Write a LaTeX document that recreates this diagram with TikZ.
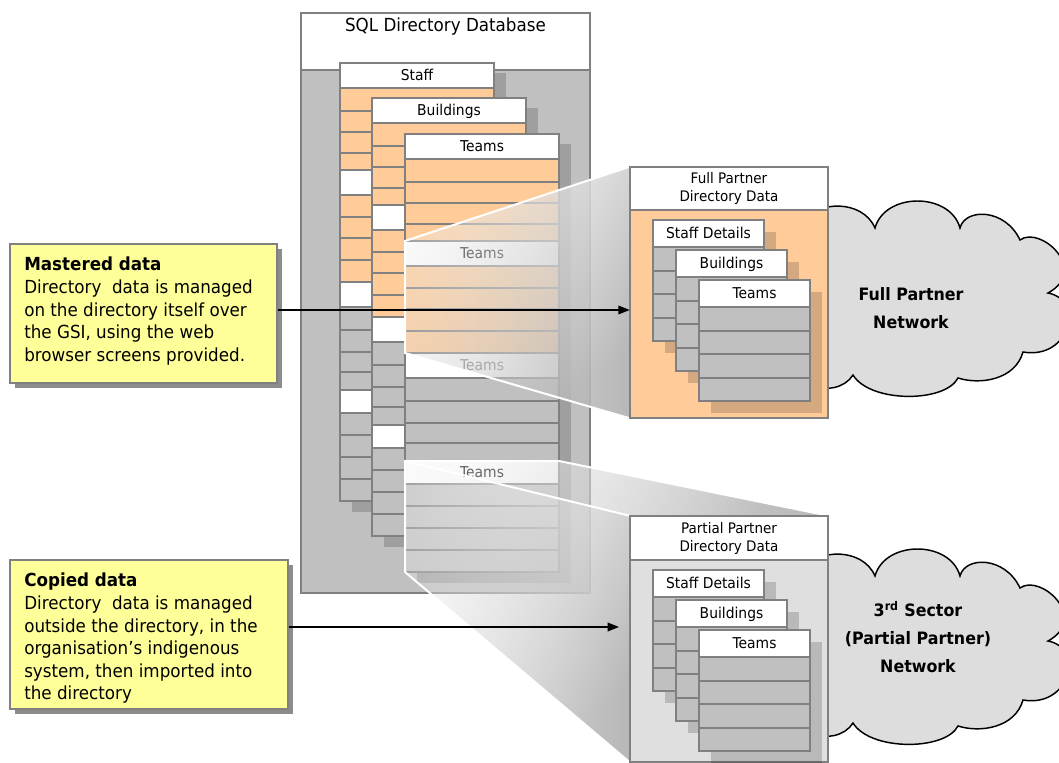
\documentclass[tikz,border=0pt]{standalone}
\usepackage{fontspec}
\setmainfont{DejaVu Sans}[FakeStretch=0.93]
\usetikzlibrary{arrows.meta,fadings}

\definecolor{rowO}{HTML}{FFCC99}
\definecolor{rowG}{HTML}{C0C0C0}
\definecolor{edgeG}{HTML}{808080}
\definecolor{dbBg}{HTML}{C0C0C0}
\definecolor{noteY}{HTML}{FFFF99}
\definecolor{noteSh}{HTML}{8C8C8C}
\definecolor{cloudG}{HTML}{DDDDDD}
\definecolor{partBg}{HTML}{DFDFDF}

% light beam: faint on the left, solid where it meets the partner box
\tikzfading[name=beamfade, left color=transparent!70, right color=transparent!0]

\tikzset{
  tblline/.style={draw=edgeG, line width=1.5pt},
  tblshadow/.style={fill=black, opacity=0.17},
  tblhead/.style={draw=edgeG, line width=1.5pt, fill=white, inner sep=0pt,
    font=\fontsize{11.2}{13}\selectfont, text height=1.6ex, text depth=0.25ex},
  subhead/.style={inner sep=0pt, font=\fontsize{11.2}{13}\selectfont,
    text height=1.6ex, text depth=0.25ex},
  boxsty/.style={draw=edgeG, line width=1.5pt, inner sep=0pt},
  boxline/.style={draw=edgeG, line width=1.5pt},
  boxtitle/.style={align=center, inner sep=0pt,
    font=\fontsize{10.9}{13.5}\selectfont},
  notebox/.style={draw=edgeG, line width=1.2pt, fill=noteY, inner sep=0pt},
  notetext/.style={align=left, inner sep=0pt,
    font=\fontsize{13.5}{16.9}\selectfont},
  cloudsty/.style={draw=black, line width=1.1pt, fill=cloudG},
  cloudtext/.style={align=center, inner sep=0pt,
    font=\bfseries\fontsize{12.8}{21}\selectfont},
  beamface/.style={top color=black!6, bottom color=black!28, shading angle=45,
    path fading=beamfade, fit fading=true},
  beamline/.style={draw=white, line width=1.5pt},
  arr/.style={draw=black, line width=1pt, -{Triangle[length=8.5pt,width=6.5pt]}}
}

% one table of the directory database: left x, top y, header text, node name
\newcommand\dbtable[4]{%
  \fill[tblshadow] (#1+12,#2+10) rectangle (#1+166,#2+449);
  \foreach \ya/\yb/\cl in {25/48/rowO,48/69/rowO,69/90/rowO,90/107/rowO,%
      107/132/white,132/154/rowO,154/175/rowO,175/197/rowO,197/219/rowO,%
      219/244/white,244/267/rowG,267/289/rowG,289/309/rowG,309/327/rowG,%
      327/350/white,350/372/rowG,372/394/rowG,394/416/rowG,416/438/rowG}%
    {\draw[tblline, fill=\cl] (#1,#2+\ya) rectangle (#1+154,#2+\yb);}%
  \node[tblhead, minimum width=154*0.75pt, minimum height=25*0.75pt]
    (#4) at (#1+77,#2+12.5) {#3};%
}

% small table inside a partner box: left x, top y, header text, node name
\newcommand\minitable[4]{%
  \fill[tblshadow] (#1+12,#2+12) rectangle (#1+123,#2+133);
  \foreach \k in {0,1,2,3}%
    {\draw[tblline, fill=rowG] (#1,#2+27+23.5*\k) rectangle (#1+111,#2+50.5+23.5*\k);}%
  \node[tblhead, minimum width=111*0.75pt, minimum height=27*0.75pt]
    (#4) at (#1+55.5,#2+13.5) {#3};%
}

% network cloud, shifted down by #1
\newcommand\netcloud[1]{%
  \draw[cloudsty] (812,218+#1)
    .. controls (815,203+#1) and (862,198+#1) .. (875,228+#1)
    .. controls (885,192+#1) and (950,192+#1) .. (960,228+#1)
    .. controls (965,208+#1) and (1005,208+#1) .. (1020,240+#1)
    .. controls (1040,225+#1) and (1090,270+#1) .. (1048,293+#1)
    .. controls (1085,300+#1) and (1070,360+#1) .. (1023,352+#1)
    .. controls (1015,380+#1) and (980,385+#1) .. (958,378+#1)
    .. controls (945,403+#1) and (870,403+#1) .. (853,375+#1)
    .. controls (845,388+#1) and (825,392+#1) .. (812,385+#1) -- cycle;%
}

\begin{document}
\begin{tikzpicture}[x=0.75pt, y=-0.75pt]
\clip (0,0) rectangle (1059,763);
\fill[white] (0,0) rectangle (1059,763);

% ---- SQL directory database ----
\node[boxsty, fill=dbBg, minimum width=289*0.75pt, minimum height=580*0.75pt] (db) at (445.5,303) {};
\draw[boxline, fill=white] (301,13) rectangle (590,70);
\node[font=\fontsize{13.5}{16}\selectfont, inner sep=0pt] (dbtitle) at (445.5,27) {SQL Directory Database};

\dbtable{340}{63}{Staff}{staff}
\dbtable{372}{98}{Buildings}{bldg}
\dbtable{405}{134}{Teams}{teams}

\node[subhead] (tsub1) at (482,253.5) {Teams};
\node[subhead, text=black!50] (tsub2) at (482,365.5) {Teams};
\node[subhead] (tsub3) at (482,472.5) {Teams};

% ---- partner boxes (placed first so the beams can use their corners) ----
\path (729,292.5) node[minimum width=198*0.75pt, minimum height=251*0.75pt, inner sep=0pt] (fullbox) {};
\path (729,639) node[minimum width=198*0.75pt, minimum height=246*0.75pt, inner sep=0pt] (partbox) {};

\coordinate (f1t) at (405,241);
\coordinate (f1b) at (405,353);
\coordinate (f2t) at (405,461);
\coordinate (f2r) at (559,461);
\coordinate (f2b) at (405,572);

% ---- projection beams ----
\path[beamface] (f1t) -- (fullbox.north west) -- (fullbox.south west) -- (f1b) -- cycle;
\path[beamface] (f2t) -- (f2r) -- (partbox.north east) -- (partbox.north west) -- cycle;
\path[beamface] (f2t) -- (partbox.north west) -- (partbox.south west) -- (f2b) -- cycle;
\draw[beamline] (fullbox.north west) -- (f1t) -- (f1b) -- (fullbox.south west);
\draw[beamline] (partbox.north west) -- (f2t) -- (f2b) -- (partbox.south west);
\draw[beamline] (f2t) -- (f2r) -- (partbox.north east);

% ---- networks ----
\netcloud{0}
\netcloud{348}
\node[cloudtext] (fullnet) at (911,308) {Full Partner\\Network};
\node[cloudtext] (partnet) at (918,637) {3\textsuperscript{rd} Sector\\(Partial Partner)\\Network};

% ---- full partner directory data ----
\node[boxsty, fill=rowO, minimum width=198*0.75pt, minimum height=251*0.75pt] (fullboxd) at (fullbox.center) {};
\draw[boxline, fill=white] (630,167) rectangle (828,210);
\node[boxtitle] (fulltitle) at (729,188.5) {Full Partner\\Directory Data};
\minitable{653}{220}{Staff Details}{fstaff}
\minitable{676}{250}{Buildings}{fbldg}
\minitable{699}{280}{Teams}{fteams}

% ---- partial partner directory data ----
\node[boxsty, fill=partBg, minimum width=198*0.75pt, minimum height=246*0.75pt] (partboxd) at (partbox.center) {};
\draw[boxline, fill=white] (630,516) rectangle (828,560);
\node[boxtitle] (parttitle) at (729,538) {Partial Partner\\Directory Data};
\minitable{653}{570}{Staff Details}{pstaff}
\minitable{676}{600}{Buildings}{pbldg}
\minitable{699}{630}{Teams}{pteams}

% ---- notes ----
\fill[noteSh] (15,249) rectangle (282,388);
\node[notebox, minimum width=267*0.75pt, minimum height=139*0.75pt] (mastered) at (143.5,313.5) {};
\node[notetext, anchor=north west] (masteredtxt) at (24,257)
  {\textbf{Mastered data}\\Directory~ data is managed\\on the directory itself over\\the GSI, using the web\\browser screens provided.};

\fill[noteSh] (15,565) rectangle (293,714);
\node[notebox, minimum width=278*0.75pt, minimum height=149*0.75pt] (copied) at (149,634.5) {};
\node[notetext, anchor=north west] (copiedtxt) at (24,573)
  {\textbf{Copied data}\\Directory~ data is managed\\outside the directory, in the\\organisation’s indigenous\\system, then imported into\\the directory};

% ---- arrows ----
\coordinate (a1) at (0,310);
\coordinate (a2) at (619,627);
\draw[arr] (a1 -| mastered.east) -- (a1 -| fullbox.west);
\draw[arr] (a2 -| copied.east) -- (a2);
\end{tikzpicture}
\end{document}
